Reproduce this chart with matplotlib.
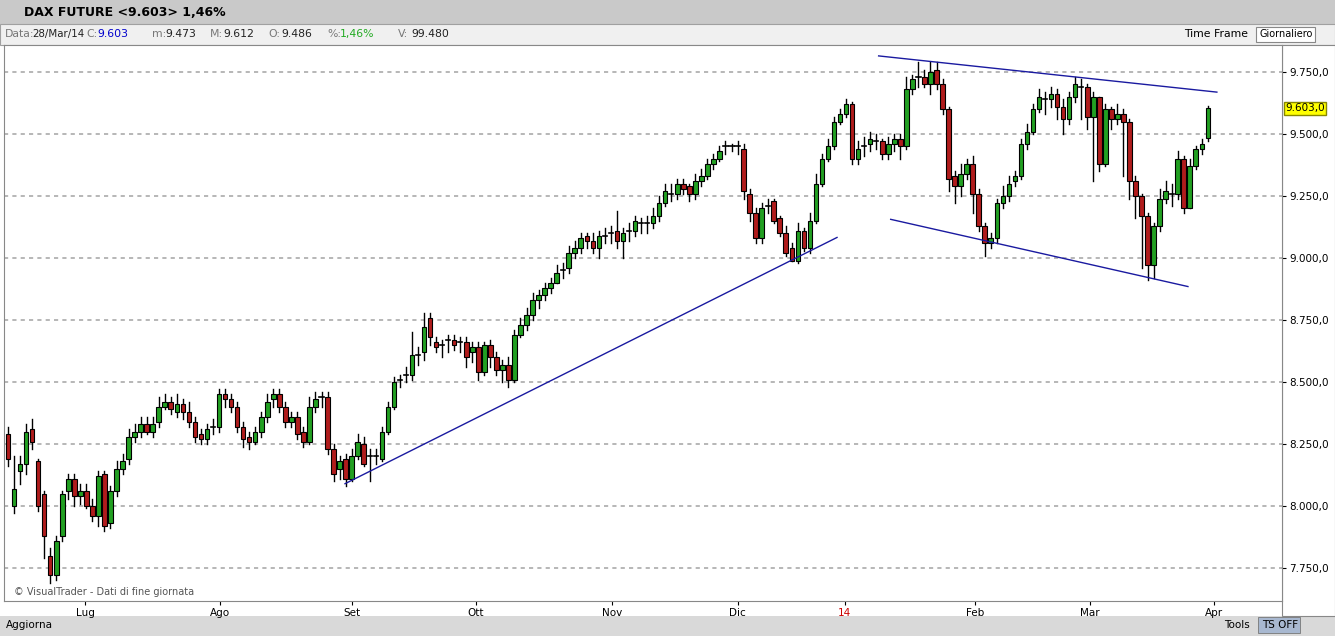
import matplotlib.pyplot as plt
from matplotlib.patches import Rectangle

# OHLC giornalieri DAX future (letti a occhio dal grafico)
opens = [
    8290, 8000, 8140, 8170, 8310, 8180, 8050, 7800, 7720, 7880,
    8060, 8110, 8040, 8060, 8000, 7960, 8130, 7930, 8060, 8150,
    8190, 8280, 8300, 8330, 8300, 8340, 8400, 8420, 8380, 8410,
    8380, 8340, 8290, 8270, 8310, 8320, 8450, 8430, 8400, 8320,
    8280, 8260, 8300, 8360, 8430, 8450, 8400, 8340, 8360, 8300,
    8260, 8400, 8430, 8440, 8230, 8150, 8190, 8110, 8200, 8250,
    8190, 8200, 8190, 8300, 8400, 8500, 8530, 8530, 8620, 8620,
    8760, 8660, 8640, 8660, 8670, 8650, 8660, 8620, 8640, 8540,
    8650, 8600, 8550, 8570, 8510, 8690, 8730, 8770, 8830, 8850,
    8880, 8900, 8940, 8960, 9020, 9040, 9090, 9070, 9040, 9090,
    9100, 9110, 9070, 9100, 9110, 9150, 9140, 9140, 9170, 9220,
    9270, 9260, 9300, 9290, 9260, 9310, 9330, 9380, 9400, 9440,
    9450, 9440, 9440, 9260, 9180, 9080, 9200, 9230, 9160, 9100,
    9040, 8990, 9110, 9040, 9150, 9300, 9400, 9450, 9550, 9580,
    9620, 9400, 9440, 9460, 9480, 9470, 9420, 9460, 9480, 9450,
    9680, 9720, 9730, 9700, 9760, 9700, 9600, 9330, 9290, 9340,
    9380, 9260, 9130, 9060, 9080, 9220, 9250, 9310, 9330, 9460,
    9510, 9600, 9650, 9640, 9660, 9610, 9560, 9650, 9700, 9690,
    9570, 9650, 9380, 9600, 9560, 9580, 9550, 9310, 9250, 9170,
    8970, 9130, 9240, 9270, 9260, 9400, 9200, 9370, 9440, 9486]
highs = [
    8320, 8200, 8200, 8330, 8350, 8190, 8060, 7830, 7880, 8060,
    8130, 8130, 8090, 8090, 8030, 8140, 8140, 8080, 8180, 8210,
    8310, 8330, 8360, 8360, 8360, 8440, 8450, 8440, 8450, 8430,
    8420, 8360, 8310, 8330, 8350, 8470, 8470, 8450, 8420, 8340,
    8300, 8320, 8380, 8450, 8470, 8470, 8420, 8380, 8380, 8320,
    8440, 8460, 8460, 8460, 8250, 8200, 8210, 8230, 8290, 8280,
    8230, 8230, 8320, 8420, 8520, 8530, 8560, 8700, 8640, 8780,
    8780, 8680, 8670, 8690, 8690, 8680, 8680, 8660, 8660, 8660,
    8670, 8620, 8590, 8600, 8710, 8760, 8800, 8860, 8870, 8900,
    8920, 8970, 8980, 9050, 9070, 9100, 9100, 9100, 9110, 9120,
    9130, 9190, 9120, 9140, 9170, 9160, 9170, 9200, 9250, 9300,
    9300, 9320, 9320, 9300, 9340, 9360, 9400, 9420, 9450, 9470,
    9460, 9470, 9460, 9280, 9200, 9220, 9240, 9240, 9170, 9130,
    9060, 9140, 9120, 9180, 9340, 9420, 9480, 9570, 9600, 9640,
    9630, 9470, 9490, 9510, 9500, 9480, 9490, 9500, 9500, 9730,
    9740, 9790, 9760, 9790, 9790, 9720, 9610, 9350, 9380, 9400,
    9410, 9280, 9140, 9100, 9240, 9290, 9330, 9350, 9480, 9540,
    9620, 9680, 9670, 9690, 9680, 9640, 9670, 9730, 9720, 9700,
    9670, 9650, 9620, 9610, 9620, 9600, 9560, 9330, 9260, 9180,
    9140, 9280, 9310, 9300, 9430, 9410, 9400, 9450, 9480, 9612]
lows = [
    8160, 7970, 8090, 8130, 8230, 7980, 7790, 7690, 7700, 7860,
    8030, 8000, 8010, 7990, 7940, 7920, 7900, 7910, 8040, 8130,
    8170, 8260, 8280, 8290, 8280, 8320, 8390, 8370, 8360, 8350,
    8320, 8260, 8250, 8250, 8290, 8300, 8400, 8380, 8300, 8240,
    8230, 8250, 8280, 8340, 8400, 8380, 8320, 8320, 8270, 8240,
    8250, 8380, 8400, 8210, 8100, 8110, 8080, 8100, 8190, 8160,
    8100, 8170, 8180, 8290, 8390, 8480, 8500, 8510, 8570, 8590,
    8650, 8620, 8600, 8620, 8630, 8620, 8560, 8580, 8510, 8530,
    8560, 8530, 8500, 8480, 8500, 8680, 8710, 8750, 8800, 8830,
    8860, 8900, 8920, 8940, 9000, 9020, 9040, 9020, 9000, 9060,
    9060, 9040, 9000, 9070, 9090, 9100, 9100, 9120, 9150, 9210,
    9230, 9240, 9260, 9230, 9240, 9290, 9320, 9360, 9390, 9420,
    9430, 9420, 9240, 9150, 9060, 9060, 9180, 9140, 9090, 9010,
    8990, 8980, 9030, 9020, 9140, 9290, 9390, 9440, 9540, 9570,
    9380, 9380, 9410, 9430, 9440, 9400, 9400, 9430, 9400, 9440,
    9660, 9690, 9690, 9660, 9680, 9580, 9270, 9220, 9250, 9320,
    9180, 9110, 9010, 9040, 9060, 9200, 9230, 9290, 9320, 9440,
    9500, 9590, 9580, 9610, 9560, 9500, 9540, 9630, 9560, 9520,
    9310, 9350, 9370, 9520, 9540, 9330, 9240, 9160, 8960, 8910,
    8920, 9110, 9220, 9210, 9240, 9180, 9200, 9360, 9420, 9473]
closes = [
    8190, 8070, 8170, 8300, 8260, 8000, 7880, 7720, 7860, 8050,
    8110, 8040, 8060, 8000, 7960, 8120, 7920, 8060, 8150, 8180,
    8280, 8300, 8330, 8300, 8330, 8400, 8420, 8390, 8410, 8380,
    8340, 8280, 8270, 8310, 8320, 8450, 8430, 8400, 8320, 8270,
    8260, 8300, 8360, 8420, 8450, 8400, 8340, 8360, 8290, 8260,
    8400, 8430, 8440, 8230, 8130, 8180, 8110, 8200, 8260, 8170,
    8200, 8200, 8300, 8400, 8500, 8510, 8530, 8610, 8610, 8720,
    8680, 8640, 8650, 8670, 8650, 8660, 8600, 8640, 8540, 8650,
    8600, 8550, 8570, 8510, 8690, 8730, 8770, 8830, 8850, 8880,
    8900, 8940, 8950, 9020, 9040, 9080, 9070, 9040, 9090, 9090,
    9100, 9070, 9100, 9110, 9150, 9140, 9140, 9170, 9220, 9270,
    9260, 9300, 9280, 9260, 9310, 9330, 9380, 9400, 9430, 9450,
    9450, 9450, 9270, 9180, 9080, 9200, 9210, 9150, 9100, 9020,
    8990, 9110, 9040, 9150, 9300, 9400, 9450, 9550, 9580, 9620,
    9400, 9440, 9450, 9480, 9470, 9420, 9460, 9480, 9450, 9680,
    9720, 9730, 9700, 9750, 9700, 9600, 9320, 9290, 9340, 9380,
    9260, 9130, 9060, 9080, 9220, 9250, 9300, 9330, 9460, 9510,
    9600, 9650, 9640, 9660, 9610, 9560, 9650, 9700, 9690, 9570,
    9650, 9380, 9600, 9560, 9580, 9550, 9310, 9250, 9170, 8970,
    9130, 9240, 9270, 9260, 9400, 9200, 9370, 9440, 9460, 9603]

month_pos = [12.8, 35.2, 57.0, 77.6, 100.2, 121.0, 138.8, 160.4, 179.4, 200.0]
month_labels = ['Lug', 'Ago', 'Set', 'Ott', 'Nov', 'Dic', '14', 'Feb', 'Mar', 'Apr']
price_ticks = [7750, 8000, 8250, 8500, 8750, 9000, 9250, 9500, 9750]

# trendline (indice candela, prezzo)
trend_up = ([55.9, 137.5], [8090, 9083])
trend_top = ([144.4, 200.5], [9815, 9669])
trend_bot = ([146.4, 195.7], [9156, 8885])

W, H = 1335, 636
fig = plt.figure(figsize=(W / 100, H / 100), dpi=100)
fig.patch.set_facecolor('white')

def fr(x0, y0, x1, y1, **kw):
    fig.add_artist(Rectangle((x0 / W, 1 - y1 / H), (x1 - x0) / W, (y1 - y0) / H,
                             transform=fig.transFigure, zorder=-5, **kw))

# barra titolo, barra info, barra in basso
fr(0, 0, W, 24, facecolor='#c9c9c9', edgecolor='none')
fr(0, 24, W, 45, facecolor='#f0f0f0', edgecolor='#a0a0a0', lw=0.8)
fr(0, 616, W, H, facecolor='#d9d9d9', edgecolor='none')
fr(1282, 45, W, 616, facecolor='white', edgecolor='#888888', lw=0.8)
fig.text(24 / W, 1 - 12 / H, 'DAX FUTURE <9.603> 1,46%', fontsize=9, fontweight='bold', va='center')
fs = 7.8
y_info = 1 - 34 / H
fig.text(5 / W, y_info, 'Data:', color='#777777', fontsize=fs, va='center')
fig.text(32 / W, y_info, '28/Mar/14', color='#222222', fontsize=7.4, va='center')
fig.text(86 / W, y_info, 'C:', color='#777777', fontsize=fs, va='center')
fig.text(97 / W, y_info, '9.603', color='#0000cc', fontsize=fs, va='center')
for x, lab, val, col in [(152, 'm:', '9.473', '#222222'), (210, 'M:', '9.612', '#222222'),
                         (268, 'O:', '9.486', '#222222'), (327, '%:', '1,46%', '#22aa22'),
                         (398, 'V:', '99.480', '#222222')]:
    fig.text(x / W, y_info, lab, color='#777777', fontsize=fs, va='center')
    fig.text((x + 13) / W, y_info, val, color=col, fontsize=fs, va='center')
fig.text(1184 / W, y_info, 'Time Frame', fontsize=fs, va='center')
fr(1256, 27, 1315, 42, facecolor='white', edgecolor='#888888', lw=0.8)
fig.text(1260 / W, y_info, 'Giornaliero', fontsize=7, va='center')
fig.text(6 / W, 1 - 625 / H, 'Aggiorna', fontsize=7.5, va='center')
fig.text(1224 / W, 1 - 625 / H, 'Tools', fontsize=7.5, va='center')
fr(1258, 617, 1300, 633, facecolor='#a8b8d0', edgecolor='#777777', lw=0.6)
fig.text(1262 / W, 1 - 625 / H, 'TS OFF', fontsize=7.5, va='center')

ax = fig.add_axes([4 / W, 1 - 601 / H, 1278 / W, 556 / H])
ax.set_facecolor('white')
ax.set_xlim(-0.66, 211.3)
ax.set_ylim(7617, 9859)

for p in price_ticks:
    ax.axhline(p, color='#aaaaaa', lw=1.2, ls=(0, (2.5, 2.5)), zorder=0)

for i, (o, h, l, c) in enumerate(zip(opens, highs, lows, closes)):
    ax.plot([i, i], [l, h], color='black', lw=1, zorder=2)
    if abs(c - o) < 12:
        ax.plot([i - 0.35, i + 0.35], [c, c], color='black', lw=1.2, zorder=3)
        continue
    col = '#22a022' if c > o else '#b01c1c'
    ax.add_patch(Rectangle((i - 0.38, min(o, c)), 0.76, abs(c - o),
                           facecolor=col, edgecolor='black', lw=0.8, zorder=3))

for xs, ys in (trend_up, trend_top, trend_bot):
    ax.plot(xs, ys, color='#1a1aa0', lw=1, zorder=4)

ax.yaxis.tick_right()
ax.set_yticks(price_ticks)
ax.set_yticklabels([f'{p:,}'.replace(',', '.') + ',0' for p in price_ticks], fontsize=7.5)
ax.set_xticks(month_pos)
ax.set_xticklabels(month_labels, fontsize=7.5)
ax.get_xticklabels()[6].set_color('#cc0000')
ax.tick_params(length=3, width=0.8, pad=2)
ax.text(211.8, closes[-1], '9.603,0', fontsize=7.5, va='center',
        bbox=dict(facecolor='#ffff00', edgecolor='#888800', pad=1), clip_on=False)
ax.text(1, 7640, '© VisualTrader - Dati di fine giornata', fontsize=7, color='#555555')
for s in ax.spines.values():
    s.set_color('#888888')

fig.savefig('out.png', dpi=100, facecolor=fig.get_facecolor())
